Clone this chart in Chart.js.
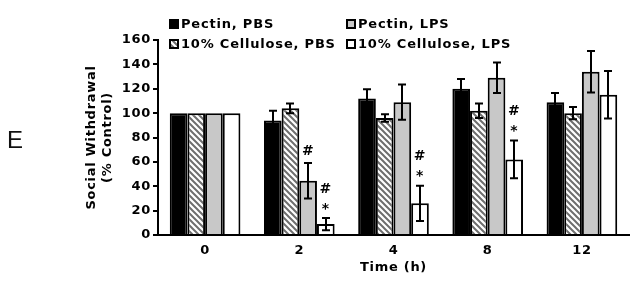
<!DOCTYPE html>
<html lang="en">
<head>
  <meta charset="UTF-8" />
  <title>Social Withdrawal</title>
  <script src="https://cdn.jsdelivr.net/npm/chart.js"></script>
  <style>
    body {
      margin: 0;
      padding: 0;
      background: #ffffff;
    }
    .wrap {
      position: relative;
      width: 640px;
      height: 289px;
    }
    .panel {
      position: absolute;
      left: 7px;
      top: 128px;
      font-family: 'Liberation Sans', Arial, sans-serif;
      font-size: 24px;
      line-height: 1;
      color: #111;
    }
  </style>
</head>
<body>
  <div class="wrap">
    <canvas id="chart" width="640" height="289"></canvas>
    <div class="panel">E</div>
  </div>

  <script>
    // data
    const times = ['0', '2', '4', '8', '12'];
    const seriesNames = ['Pectin, PBS', '10% Cellulose, PBS', 'Pectin, LPS', '10% Cellulose, LPS'];
    const pectinPBS = [100, 94, 112, 120, 109];
    const pectinPBSErr = [0, 8, 7.5, 8, 7.5];
    const cellPBS = [100, 104, 96, 102, 100];
    const cellPBSErr = [0, 4, 3, 6, 5];
    const pectinLPS = [100, 44.5, 109, 129, 134];
    const pectinLPSErr = [0, 14.5, 14.5, 12.5, 17];
    const cellLPS = [100, 9, 26, 62, 115];
    const cellLPSErr = [0, 5, 14.5, 15.5, 19.5];
    // significance marks: [time index, series index, marks top-down]
    const sigMarks = [
      [1, 2, ['#']],
      [1, 3, ['#', '*']],
      [2, 3, ['#', '*']],
      [3, 3, ['#', '*']]
    ];

    const FONT = "'DejaVu Sans', Verdana, sans-serif";

    function makeHatch() {
      const c = document.createElement('canvas');
      c.width = 6;
      c.height = 6;
      const g = c.getContext('2d');
      g.fillStyle = '#ffffff';
      g.fillRect(0, 0, 6, 6);
      g.strokeStyle = '#6e6e6e';
      g.lineWidth = 2;
      g.beginPath();
      g.moveTo(-1, -1); g.lineTo(7, 7);
      g.moveTo(-4, 2); g.lineTo(4, 10);
      g.moveTo(2, -4); g.lineTo(10, 4);
      g.stroke();
      return g.createPattern(c, 'repeat');
    }
    const hatch = makeHatch();

    const fills = ['#000000', hatch, '#c8c8c8', '#ffffff'];
    const values = [pectinPBS, cellPBS, pectinLPS, cellLPS];
    const errors = [pectinPBSErr, cellPBSErr, pectinLPSErr, cellLPSErr];

    const errorBars = {
      id: 'errorBars',
      afterDatasetsDraw(chart) {
        const ctx = chart.ctx;
        const y = chart.scales.y;
        ctx.save();
        ctx.strokeStyle = '#000';
        ctx.lineWidth = 2;
        chart.data.datasets.forEach((ds, di) => {
          const meta = chart.getDatasetMeta(di);
          meta.data.forEach((bar, i) => {
            const e = errors[di][i];
            if (!e) return;
            const v = values[di][i];
            const top = y.getPixelForValue(v + e);
            const bot = y.getPixelForValue(v - e);
            const x = Math.round(bar.x);
            ctx.beginPath();
            ctx.moveTo(x, top); ctx.lineTo(x, bot);
            ctx.moveTo(x - 4, top); ctx.lineTo(x + 4, top);
            ctx.moveTo(x - 4, bot); ctx.lineTo(x + 4, bot);
            ctx.stroke();
          });
        });
        // significance marks above the error bars
        ctx.fillStyle = '#000';
        ctx.font = 'bold 14px ' + FONT;
        ctx.textAlign = 'center';
        ctx.textBaseline = 'middle';
        sigMarks.forEach(([ti, si, marks]) => {
          const bar = chart.getDatasetMeta(si).data[ti];
          let py = y.getPixelForValue(values[si][ti] + errors[si][ti]) - 12;
          for (let k = marks.length - 1; k >= 0; k--) {
            ctx.fillText(marks[k], bar.x, marks[k] === '*' ? py + 3 : py);
            py -= 17;
          }
        });
        ctx.restore();
      }
    };

    const gridLegend = {
      id: 'gridLegend',
      afterDraw(chart) {
        const ctx = chart.ctx;
        const left = chart.chartArea.left;
        const cols = [left + 12, left + 189];
        const rows = [24, 44];
        // column-major: col 1 = PBS groups, col 2 = LPS groups
        const slots = [[0, 0], [0, 1], [1, 0], [1, 1]];
        ctx.save();
        ctx.font = 'bold 13px ' + FONT;
        ctx.letterSpacing = '0.8px';
        ctx.textBaseline = 'middle';
        ctx.textAlign = 'left';
        seriesNames.forEach((name, i) => {
          const x = cols[slots[i][0]];
          const yy = rows[slots[i][1]];
          ctx.fillStyle = fills[i];
          ctx.fillRect(x, yy - 4, 8, 8);
          ctx.strokeStyle = '#000';
          ctx.lineWidth = 2;
          ctx.strokeRect(x, yy - 4, 8, 8);
          ctx.fillStyle = '#000';
          ctx.fillText(name, x + 11, yy + 1);
        });
        ctx.restore();
      }
    };

    const spacing = {
      id: 'spacing',
      beforeDraw(chart) {
        chart.ctx.letterSpacing = '0.7px';
      }
    };

    const ctx = document.getElementById('chart').getContext('2d');
    const chart = new Chart(ctx, {
      type: 'bar',
      data: {
        labels: times,
        datasets: seriesNames.map((name, i) => ({
          label: name,
          data: values[i],
          backgroundColor: fills[i],
          borderColor: '#000',
          borderWidth: 2
        }))
      },
      options: {
        responsive: false,
        animation: false,
        devicePixelRatio: 1,
        datasets: {
          bar: { categoryPercentage: 0.75, barPercentage: 1.0 }
        },
        layout: {
          padding: { left: 0, right: 11, top: 40, bottom: 0 }
        },
        plugins: {
          legend: { display: false },
          tooltip: { enabled: false }
        },
        scales: {
          x: {
            grid: { display: false, drawTicks: false },
            border: { display: true, color: '#000', width: 2 },
            ticks: {
              color: '#000',
              padding: 8,
              font: { family: FONT, size: 13, weight: 'bold' }
            },
            title: {
              display: true,
              text: 'Time (h)',
              color: '#000',
              padding: { top: 0, bottom: 13 },
              font: { family: FONT, size: 13, weight: 'bold', lineHeight: '16px' }
            },
            afterFit(scale) { scale.height = 54; }
          },
          y: {
            min: 0,
            max: 160,
            ticks: {
              stepSize: 20,
              color: '#000',
              padding: 2,
              font: { family: FONT, size: 13, weight: 'bold' }
            },
            grid: {
              drawOnChartArea: false,
              drawTicks: true,
              tickLength: 5,
              color: '#000',
              lineWidth: 2
            },
            border: { display: true, color: '#000', width: 2 },
            title: {
              display: true,
              text: ['Social Withdrawal', '(% Control)'],
              color: '#000',
              padding: { top: 84, bottom: 0 },
              font: { family: FONT, size: 13, weight: 'bold', lineHeight: '16px' }
            },
            afterFit(scale) { scale.width = 158; }
          }
        }
      },
      plugins: [spacing, errorBars, gridLegend]
    });
  </script>
</body>
</html>
